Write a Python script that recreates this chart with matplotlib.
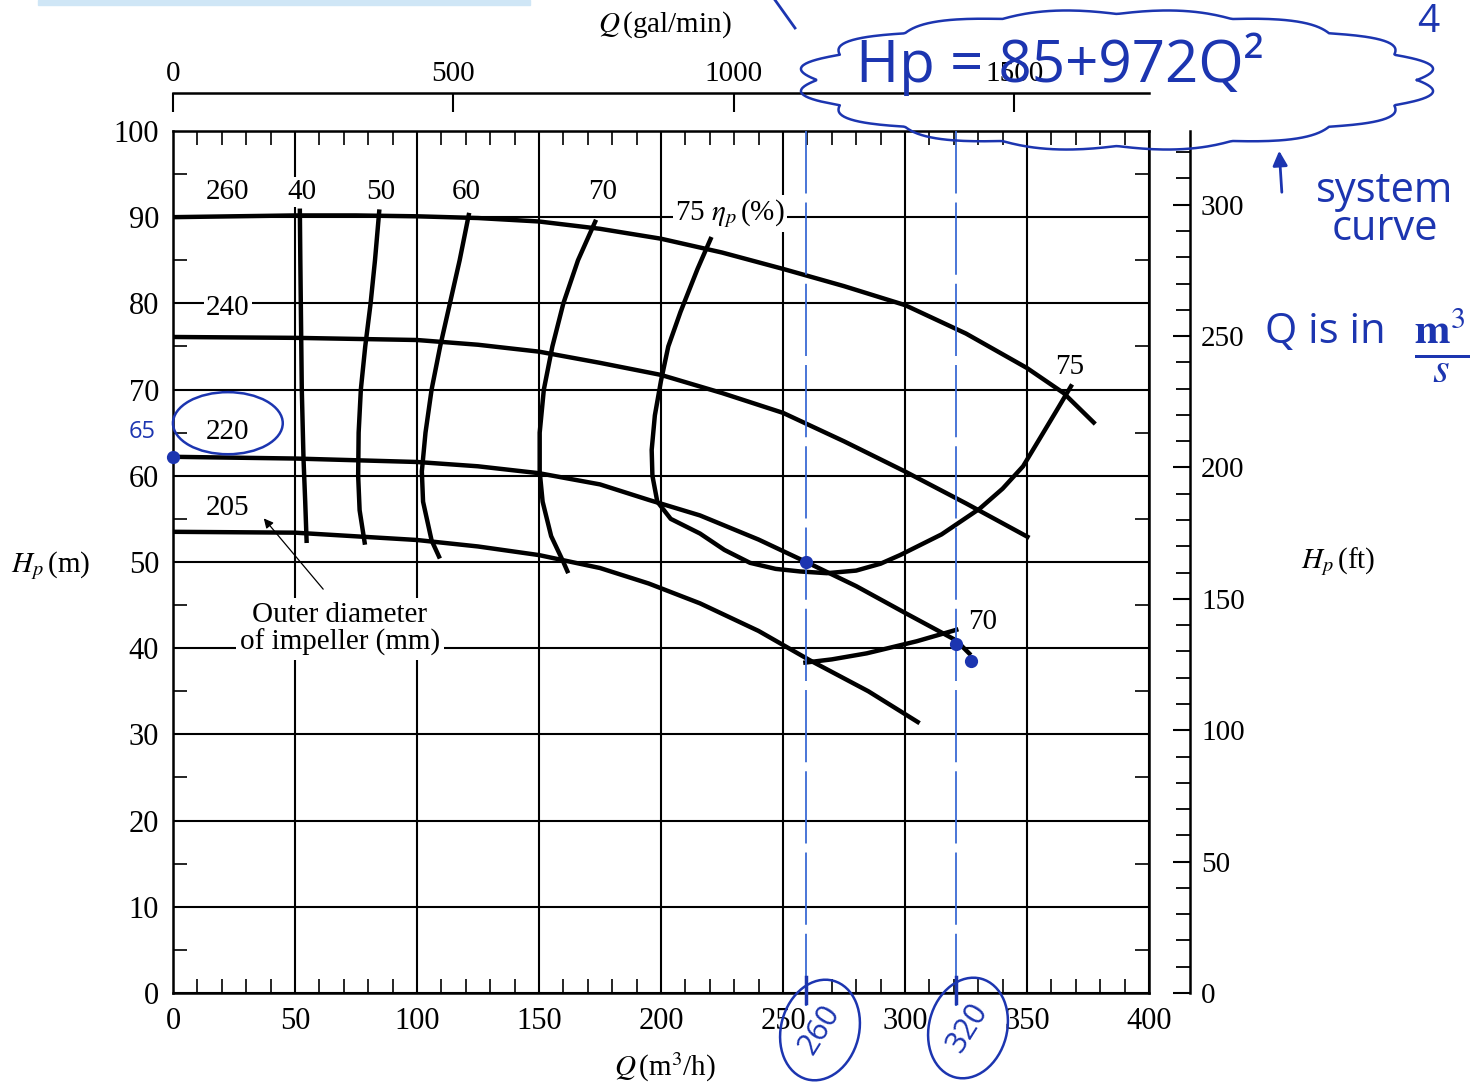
import numpy as np
import matplotlib.pyplot as plt
from matplotlib.patches import Ellipse, Rectangle, FancyArrowPatch

plt.rcParams['font.family'] = ['Liberation Serif', 'DejaVu Serif']
plt.rcParams['mathtext.fontset'] = 'stix'

# head curves for each impeller diameter (Q in m3/h, H in m)
q_260 = [0, 25, 50, 75, 100, 125, 150, 175, 200, 225, 250, 275, 300, 325, 350, 365, 378]
h_260 = [90.0, 90.1, 90.2, 90.2, 90.1, 89.9, 89.5, 88.65, 87.5, 85.9, 84.0, 82.0, 79.8, 76.5, 72.5, 69.6, 66.0]
q_240 = [0, 50, 100, 125, 150, 175, 200, 225, 250, 275, 300, 325, 351]
h_240 = [76.1, 76.0, 75.75, 75.2, 74.4, 73.1, 71.7, 69.6, 67.3, 64.0, 60.5, 56.8, 52.8]
q_220 = [0, 50, 100, 125, 150, 175, 195, 216, 240, 259.5, 280, 300, 321, 327]
h_220 = [62.2, 62.0, 61.6, 61.1, 60.3, 59.0, 57.2, 55.4, 52.6, 50.0, 47.2, 44.1, 40.9, 39.2]
q_205 = [0, 50, 100, 125, 150, 175, 195, 216, 240, 261, 285, 306]
h_205 = [53.5, 53.4, 52.55, 51.8, 50.8, 49.3, 47.5, 45.2, 42.0, 38.6, 35.0, 31.3]

# efficiency contours
q_e40 = [52, 52.2, 52.4, 52.8, 53.5, 54.2, 54.8]
h_e40 = [91, 85, 80, 70, 62, 57, 52.2]
q_e50 = [84.6, 82.8, 81.0, 78.8, 77.0, 76.1, 75.9, 76.5, 78.7]
h_e50 = [90.9, 85, 80, 75, 70, 65, 60, 56, 52.0]
q_e60 = [121.4, 117.5, 113.5, 109.5, 106, 103.5, 102, 102.5, 106, 109.4]
h_e60 = [90.5, 85, 80, 75, 70, 65, 60.5, 57, 52.5, 50.4]
q_e70 = [173.4, 166, 160, 155.5, 152, 150.3, 150.3, 151.5, 155, 160, 162]
h_e70 = [89.7, 85, 80, 75, 70, 65, 60.5, 57, 53, 50, 48.7]
q_e75 = [220.7, 215, 208, 203, 200, 197.5, 196.2, 196.5, 198.5, 204, 216, 226, 236.5, 247, 257, 268,
         280, 290, 298, 315, 330.7, 340, 348.4, 355, 362, 368.5]
h_e75 = [87.7, 84, 79, 75, 71, 67, 63, 60, 57, 55, 53.3, 51.4, 49.9, 49.2, 48.9, 48.7,
         49.0, 49.8, 50.8, 53.2, 56.2, 58.5, 61.1, 64.2, 67.5, 70.6]
q_e70b = [258.3, 270, 284.3, 304.8, 321.9]
h_e70b = [38.3, 38.7, 39.4, 40.8, 42.2]

# hand-marked operating points
q_marks = [0, 259.5, 321, 327]
h_marks = [62.2, 50.0, 40.5, 38.5]
q_vlines = [259.5, 321]

GPM_PER_M3H = 4.35
FT_PER_M = 3.2808

INK = '#1c35b0'
PEN = '#3a6ad4'
hand = ['Open Sans', 'DejaVu Sans']

fig = plt.figure(figsize=(14.77, 10.85), dpi=100)
ax = fig.add_axes([0.1171, 0.0848, 0.6608, 0.7945])
ax.set_xlim(0, 400)
ax.set_ylim(0, 100)
ax.set_axisbelow(True)

ax.set_xticks(np.arange(0, 401, 50))
ax.set_xticks(np.arange(0, 401, 10), minor=True)
ax.set_yticks(np.arange(0, 101, 10))
ax.set_yticks(np.arange(0, 101, 5), minor=True)
ax.grid(True, which='major', color='black', lw=1.5)
ax.tick_params(which='major', length=0, labelsize=22, pad=10)
ax.tick_params(which='minor', direction='in', length=10, width=1.2,
               top=True, right=True, bottom=True, left=True)
for s in ax.spines.values():
    s.set_linewidth(1.8)

# other unit scales
top = ax.secondary_xaxis(1.044, functions=(lambda q: q * GPM_PER_M3H, lambda g: g / GPM_PER_M3H))
top.set_xticks([0, 500, 1000, 1500])
top.tick_params(direction='in', length=14, width=1.5, labelsize=21, pad=4)
top.spines['top'].set_linewidth(1.8)

right = ax.secondary_yaxis(1.042, functions=(lambda h: h * FT_PER_M, lambda f: f / FT_PER_M))
right.set_yticks(np.arange(0, 301, 50))
right.set_yticks(np.arange(0, 321, 10), minor=True)
right.tick_params(which='major', direction='in', length=12, width=1.5, labelsize=21, pad=8)
right.tick_params(which='minor', direction='in', length=10, width=1.3)
right.spines['right'].set_linewidth(1.8)

curve = dict(color='black', lw=3.2, zorder=4, solid_capstyle='butt', solid_joinstyle='round')
for q, h in [(q_260, h_260), (q_240, h_240), (q_220, h_220), (q_205, h_205),
             (q_e40, h_e40), (q_e50, h_e50), (q_e60, h_e60), (q_e70, h_e70),
             (q_e75, h_e75), (q_e70b, h_e70b)]:
    ax.plot(q, h, **curve)

box = dict(facecolor='white', edgecolor='none', pad=1.5)
for txt, q, h in [('260', 22.5, 92.9), ('40', 52.9, 92.9), ('50', 85.2, 92.9),
                  ('60', 120, 92.9), ('70', 176.2, 92.9), ('240', 22.5, 79.5),
                  ('220', 22.5, 65.1), ('205', 22.5, 56.3)]:
    ax.text(q, h, txt, fontsize=21, ha='center', va='center', bbox=box, zorder=3)
ax.text(228.3, 90.4, r'75 $\eta_p\,$(%)', fontsize=21, ha='center', va='center', bbox=box, zorder=3)
ax.text(367.6, 72.6, '75', fontsize=21, ha='center', va='center', zorder=3)
ax.text(332, 43.0, '70', fontsize=21, ha='center', va='center', zorder=3)
ax.text(68.4, 42.2, 'Outer diameter\nof impeller (mm)', fontsize=21, ha='center', va='center',
        linespacing=1.05, bbox=dict(facecolor='white', edgecolor='none', pad=3), zorder=3)
ax.annotate('', xy=(36.5, 55.3), xytext=(62.3, 46.6),
            arrowprops=dict(arrowstyle='-|>', lw=0.9, color='black', mutation_scale=14), zorder=3)

fig.text(0.034, 0.479, r'$H_p\,$(m)', fontsize=21, ha='center', va='center')
fig.text(0.906, 0.482, r'$H_p\,$(ft)', fontsize=21, ha='center', va='center')
fig.text(0.450, 0.016, r'$Q\,$(m$^3$/h)', fontsize=21, ha='center', va='center')
fig.text(0.450, 0.977, r'$Q\,$(gal/min)', fontsize=21, ha='center', va='center')

# ---- hand annotations in blue ink ----
for qv in q_vlines:
    ax.plot([qv, qv], [-1.5, 100], color=PEN, lw=1.3, dashes=(40, 5), zorder=5, clip_on=False)
    ax.plot([qv, qv], [-1.2, 1.8], color=INK, lw=2.5, zorder=6, clip_on=False)
ax.plot(q_marks, h_marks, 'o', color=INK, ms=8, mec=INK, mew=1.5, zorder=6, clip_on=False)
ax.text(-12.7, 65.1, '65', fontsize=17, color=INK, ha='center', va='center', family=hand)
ax.add_patch(Ellipse((22.5, 66.1), 45, 7.2, fill=False, ec=INK, lw=1.8, clip_on=False, zorder=6))

inch = fig.dpi_scale_trans


def px(x, y):
    return x / 100, (1085 - y) / 100


for label, cx, cy in [('260', 820, 1030), ('320', 968, 1028)]:
    fig.patches.append(Ellipse(px(cx, cy), 0.78, 1.02, angle=-15, fill=False, ec=INK, lw=1.8,
                               transform=inch))
    fig.text(*px(cx, cy), label, transform=inch, rotation=58, fontsize=22, color=INK,
             ha='center', va='center', family=hand)

# cloud around the system curve
t = np.linspace(0, 2 * np.pi, 600)
wob = 1 + 0.07 * np.abs(np.sin(8 * t))
cx, cy, a, b = 1117, 80, 300, 66
xs = cx + a * np.cos(t) * wob
ys = cy + b * np.sin(t) * wob
fig.lines.append(plt.Line2D(xs / 100, (1085 - ys) / 100, transform=inch, color=INK, lw=1.8))
fig.text(*px(856, 64), 'Hp = 85+972Q²', transform=inch, fontsize=42, color=INK,
         ha='left', va='center', family=hand)

fig.text(*px(1385, 210), 'system\ncurve', transform=inch, fontsize=30, color=INK,
         ha='center', va='center', linespacing=0.9, family=hand)
fig.patches.append(FancyArrowPatch(px(1282, 195), px(1279, 148), transform=inch,
                                   arrowstyle='-|>', mutation_scale=22, color=INK, lw=2))
fig.text(*px(1265, 332), 'Q is in', transform=inch, fontsize=30, color=INK,
         ha='left', va='center', family=hand)
fig.text(*px(1442, 345), r'$\frac{\mathbf{m}^3}{s}$', transform=inch, fontsize=44, color=INK,
         ha='center', va='center')

fig.patches.append(Rectangle(px(38, 5), 4.92, 0.05, transform=inch, color='#cfe6f6'))
fig.lines.append(plt.Line2D([7.75, 7.95], [10.85, 10.57], transform=inch, color=INK, lw=2))
fig.text(*px(1428, 22), '4', transform=inch, fontsize=28, color=INK, ha='center', va='center',
         family=hand)

fig.savefig('out.png', dpi=100)
